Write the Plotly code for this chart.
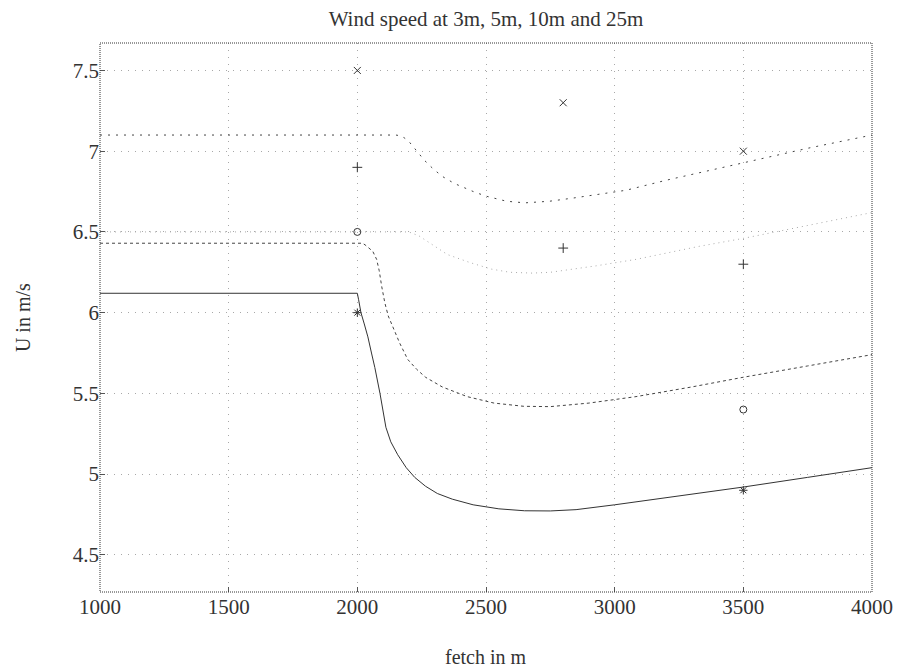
import plotly.graph_objects as go

# ---- data ----
x_3m = [1000, 2000, 2005, 2014, 2027, 2041, 2055, 2068, 2088, 2100, 2111, 2130, 2157, 2190, 2223, 2265, 2311, 2369, 2450, 2550, 2650, 2750, 2850, 3000, 3250, 3500, 3750, 4000]
y_3m = [6.12, 6.12, 6.08, 6.00, 5.93, 5.85, 5.75, 5.66, 5.50, 5.39, 5.29, 5.20, 5.12, 5.04, 4.98, 4.925, 4.88, 4.845, 4.81, 4.785, 4.773, 4.772, 4.78, 4.81, 4.865, 4.92, 4.98, 5.04]

x_5m = [1000, 2020, 2030, 2045, 2060, 2075, 2085, 2095, 2107, 2120, 2138, 2165, 2196, 2230, 2265, 2330, 2427, 2531, 2647, 2750, 2900, 3083, 3300, 3500, 3750, 4000]
y_5m = [6.43, 6.43, 6.42, 6.40, 6.38, 6.33, 6.26, 6.16, 6.06, 5.98, 5.91, 5.81, 5.71, 5.65, 5.60, 5.54, 5.48, 5.44, 5.42, 5.418, 5.44, 5.48, 5.54, 5.60, 5.67, 5.74]

x_10m = [1000, 2200, 2240, 2273, 2310, 2350, 2438, 2520, 2593, 2680, 2750, 2928, 3083, 3326, 3500, 3688, 4000]
y_10m = [6.50, 6.50, 6.475, 6.44, 6.40, 6.36, 6.31, 6.27, 6.25, 6.245, 6.25, 6.29, 6.33, 6.41, 6.46, 6.52, 6.62]

x_25m = [1000, 2150, 2169, 2185, 2203, 2230, 2261, 2295, 2330, 2377, 2420, 2458, 2504, 2580, 2651, 2747, 2840, 2940, 3044, 3200, 3350, 3507, 3750, 4000]
y_25m = [7.10, 7.10, 7.095, 7.08, 7.055, 7.00, 6.943, 6.89, 6.844, 6.80, 6.77, 6.745, 6.72, 6.69, 6.68, 6.69, 6.71, 6.733, 6.758, 6.82, 6.875, 6.93, 7.018, 7.10]

# measured points
meas_x_3m = [2000, 3500]
meas_y_3m = [6.0, 4.9]
meas_x_5m = [2000, 3500]
meas_y_5m = [6.5, 5.4]
meas_x_10m = [2000, 2800, 3500]
meas_y_10m = [6.9, 6.4, 6.3]
meas_x_25m = [2000, 2800, 3500]
meas_y_25m = [7.5, 7.3, 7.0]

x_ticks = [1000, 1500, 2000, 2500, 3000, 3500, 4000]
y_ticks = [4.5, 5, 5.5, 6, 6.5, 7, 7.5]
y_tick_text = ["4.5", "5", "5.5", "6", "6.5", "7", "7.5"]

FONT = "Liberation Serif, Times New Roman, serif"
INK = "#333333"

fig = go.Figure()

fig.add_trace(go.Scatter(x=x_3m, y=y_3m, mode="lines", line=dict(color="#333333", width=1), name="3m"))
fig.add_trace(go.Scatter(x=x_5m, y=y_5m, mode="lines", line=dict(color="#444444", width=1, dash="3px,3px"), name="5m"))
fig.add_trace(go.Scatter(x=x_10m, y=y_10m, mode="lines", line=dict(color="#aaaaaa", width=1, dash="1px,4px"), name="10m"))
fig.add_trace(go.Scatter(x=x_25m, y=y_25m, mode="lines", line=dict(color="#444444", width=1, dash="2px,6px"), name="25m"))

mk = dict(color=INK, size=7, line=dict(color=INK, width=1))
fig.add_trace(go.Scatter(x=meas_x_3m, y=meas_y_3m, mode="markers", marker=dict(symbol="asterisk-open", **mk)))
fig.add_trace(go.Scatter(x=meas_x_5m, y=meas_y_5m, mode="markers", marker=dict(symbol="circle-open", **mk)))
fig.add_trace(go.Scatter(x=meas_x_10m, y=meas_y_10m, mode="markers", marker=dict(symbol="cross-thin-open", **mk)))
fig.add_trace(go.Scatter(x=meas_x_25m, y=meas_y_25m, mode="markers", marker=dict(symbol="x-thin-open", **mk)))

axis_common = dict(
    showgrid=True, gridcolor="#a8a8a8", griddash="1px,6px", gridwidth=1,
    zeroline=False, showline=False,
    ticks="inside", ticklen=5, tickcolor="#555555",
    tickfont=dict(family=FONT, size=21, color=INK),
)

fig.update_xaxes(range=[1000, 4000], tickvals=x_ticks, ticktext=[str(v) for v in x_ticks], **axis_common)
fig.update_yaxes(range=[4.27, 7.67], tickvals=y_ticks, ticktext=y_tick_text, **axis_common)

fig.add_shape(type="rect", xref="paper", yref="paper", x0=0, y0=0, x1=1, y1=1,
              line=dict(color="#333333", width=1, dash="1px,1px"))

fig.update_layout(
    width=897, height=663,
    margin=dict(l=92, r=27, t=35, b=79),
    paper_bgcolor="white", plot_bgcolor="white",
    showlegend=False,
    font=dict(family=FONT, color=INK),
    title=dict(text="Wind speed at 3m, 5m, 10m and 25m", xref="paper", x=0.5, xanchor="center",
               y=1 - 3 / 663, yanchor="top", font=dict(family=FONT, size=21, color=INK)),
    annotations=[
        dict(text="fetch in m", xref="paper", yref="paper", x=0.5, y=-0.1184,
             xanchor="center", yanchor="middle", showarrow=False,
             font=dict(family=FONT, size=20, color=INK)),
        dict(text="U in m/s", xref="paper", yref="paper", x=-0.1003, y=0.5,
             xanchor="center", yanchor="middle", showarrow=False, textangle=-90,
             font=dict(family=FONT, size=20, color=INK)),
    ],
)

fig.write_html("out.html")
